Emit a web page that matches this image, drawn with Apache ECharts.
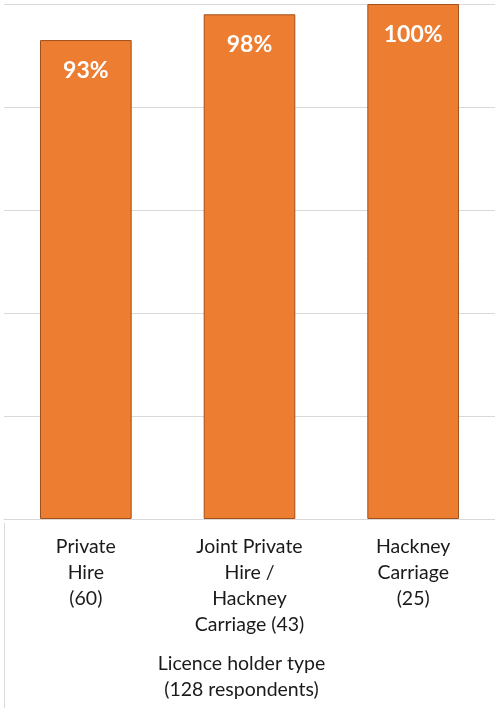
<!DOCTYPE html>
<html><head><meta charset="utf-8">
<script src="https://cdn.jsdelivr.net/npm/echarts@6/dist/echarts.min.js"></script>
<style>html,body{margin:0;padding:0;background:#fff}#c{width:495px;height:708px}</style>
</head><body><div id="c"></div>
<script>
const categories = ["Private\nHire\n(60)", "Joint Private\nHire /\nHackney\nCarriage (43)", "Hackney\nCarriage\n(25)"];
const values = [93, 98, 100];
const axisTitle = "Licence holder type\n(128 respondents)";
const FONT = "Lato, 'Open Sans', sans-serif";
const chart = echarts.init(document.getElementById('c'), null, {renderer: 'canvas'});
chart.setOption({
  animation: false,
  grid: {left: 4, width: 495, top: 4, bottom: 185, containLabel: false},
  xAxis: {
    type: 'category', data: categories,
    axisLine: {show: true, lineStyle: {color: '#d9d9d9', width: 1}},
    axisTick: {show: false},
    axisLabel: {fontFamily: FONT, fontSize: 19.5, color: '#1a1a1a', lineHeight: 26, margin: 15, interval: 0},
    name: axisTitle, nameLocation: 'middle', nameGap: 132,
    nameTextStyle: {fontFamily: FONT, fontSize: 19.5, color: '#1a1a1a', lineHeight: 26, padding: [0, 16, 0, 0]}
  },
  yAxis: {
    type: 'value', min: 0, max: 100, interval: 20,
    axisLabel: {show: false}, axisLine: {show: false}, axisTick: {show: false},
    splitLine: {lineStyle: {color: '#d9d9d9', width: 1}}
  },
  series: [{
    type: 'bar', data: values, barWidth: '56%',
    itemStyle: {color: '#ED7D31', borderColor: '#A0501A', borderWidth: 1},
    label: {show: true, position: 'insideTop', distance: 19, formatter: '{c}%',
      fontFamily: FONT, fontSize: 23, fontWeight: 'bold', color: '#fff'}
  }],
  graphic: [{type: 'line', shape: {x1: 4.5, y1: 523, x2: 4.5, y2: 708}, style: {stroke: '#d9d9d9', lineWidth: 1}}]
});
</script></body></html>
